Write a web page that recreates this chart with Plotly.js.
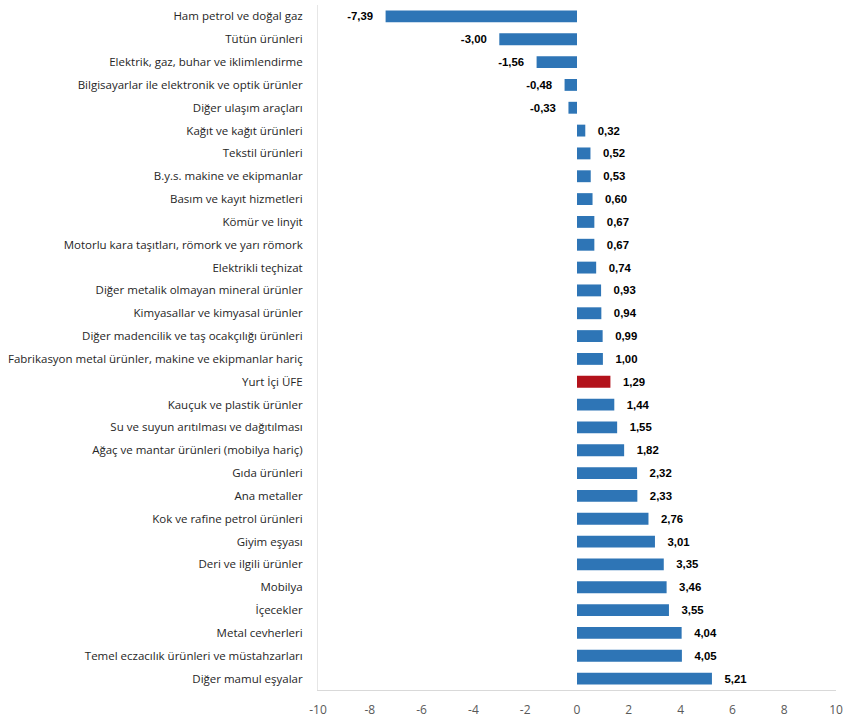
<!DOCTYPE html>
<html>
<head>
<meta charset="utf-8">
<script src="https://cdn.plot.ly/plotly-3.0.1.min.js"></script>
<style>html,body{margin:0;padding:0;background:#fff;}#chart{width:850px;height:720px;}</style>
</head>
<body>
<div id="chart"></div>
<script>
const categories = [
  "Ham petrol ve doğal gaz",
  "Tütün ürünleri",
  "Elektrik, gaz, buhar ve iklimlendirme",
  "Bilgisayarlar ile elektronik ve optik ürünler",
  "Diğer ulaşım araçları",
  "Kağıt ve kağıt ürünleri",
  "Tekstil ürünleri",
  "B.y.s. makine ve ekipmanlar",
  "Basım ve kayıt hizmetleri",
  "Kömür ve linyit",
  "Motorlu kara taşıtları, römork ve yarı römork",
  "Elektrikli teçhizat",
  "Diğer metalik olmayan mineral ürünler",
  "Kimyasallar ve kimyasal ürünler",
  "Diğer madencilik ve taş ocakçılığı ürünleri",
  "Fabrikasyon metal ürünler, makine ve ekipmanlar hariç",
  "Yurt İçi ÜFE",
  "Kauçuk ve plastik ürünler",
  "Su ve suyun arıtılması ve dağıtılması",
  "Ağaç ve mantar ürünleri (mobilya hariç)",
  "Gıda ürünleri",
  "Ana metaller",
  "Kok ve rafine petrol ürünleri",
  "Giyim eşyası",
  "Deri ve ilgili ürünler",
  "Mobilya",
  "İçecekler",
  "Metal cevherleri",
  "Temel eczacılık ürünleri ve müstahzarları",
  "Diğer mamul eşyalar"
];
const values = [-7.39, -3.00, -1.56, -0.48, -0.33, 0.32, 0.52, 0.53, 0.60, 0.67, 0.67, 0.74, 0.93, 0.94, 0.99, 1.00, 1.29, 1.44, 1.55, 1.82, 2.32, 2.33, 2.76, 3.01, 3.35, 3.46, 3.55, 4.04, 4.05, 5.21];
const highlight = "Yurt İçi ÜFE";
const xTicks = [-10, -8, -6, -4, -2, 0, 2, 4, 6, 8, 10];

const colors = categories.map(c => c === highlight ? "#B3121B" : "#2E75B6");
const pad = "\u00a0\u00a0\u00a0";
const templates = values.map(v => v < 0 ? "%{x:.2f}" + pad : pad + "%{x:.2f}");

const trace = {
  type: "bar",
  orientation: "h",
  y: categories,
  x: values,
  marker: {color: colors},
  texttemplate: templates,
  textposition: "outside",
  cliponaxis: false,
  textfont: {family: "Liberation Sans, Arial, sans-serif", size: 11.5, color: "#000", weight: "bold"},
  hoverinfo: "none"
};

const layout = {
  width: 850, height: 720,
  separators: ",.",
  margin: {l: 318, r: 14, t: 5, b: 30},
  paper_bgcolor: "#fff", plot_bgcolor: "#fff",
  bargap: 0.48,
  showlegend: false,
  font: {family: "Open Sans, Noto Sans, sans-serif", color: "#404040"},
  xaxis: {
    range: [-10, 10],
    tickvals: xTicks,
    ticktext: xTicks.map(String),
    showgrid: false, zeroline: false,
    showline: true, linecolor: "#d9d9d9", linewidth: 1,
    ticks: "outside", ticklen: 9, tickcolor: "rgba(0,0,0,0)",
    tickfont: {size: 12, color: "#595959"},
    automargin: false
  },
  yaxis: {
    type: "category",
    autorange: "reversed",
    showgrid: false, zeroline: false,
    showline: true, linecolor: "#e6e6e6", linewidth: 1,
    ticks: "outside", ticklen: 12, tickcolor: "rgba(0,0,0,0)",
    tickfont: {size: 11.5, color: "#262626"},
    automargin: false
  }
};

Plotly.newPlot("chart", [trace], layout, {displayModeBar: false, staticPlot: true});
</script>
</body>
</html>
